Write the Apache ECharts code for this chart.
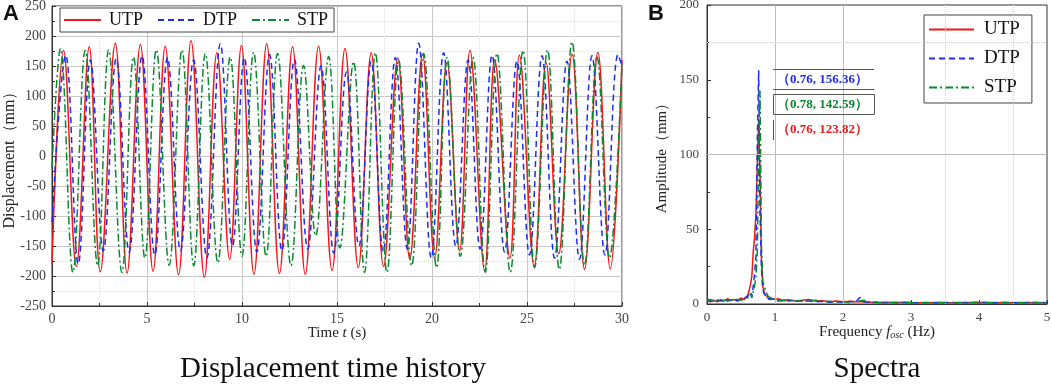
<!DOCTYPE html>
<html>
<head>
<meta charset="utf-8">
<title>Displacement time history and spectra</title>
<script src="https://cdn.jsdelivr.net/npm/echarts@6/dist/echarts.min.js"></script>
<style>
html, body { margin: 0; padding: 0; background: #fff; }
#main { width: 1052px; height: 388px; }
</style>
</head>
<body>
<div id="main"></div>
<script>
// time history: peaks and troughs
var utpTime = [0, 0.61, 1.28, 1.96, 2.54, 3.33, 3.95, 4.65, 5.32, 5.96, 6.66, 7.32, 8.02, 8.68, 9.35, 9.97, 10.63, 11.30, 11.97, 12.66, 13.33, 14.03, 14.74, 15.42, 16.12, 16.80, 17.45, 18.20, 18.83, 19.50, 20.14, 20.79, 21.45, 22.00, 22.77, 23.30, 24.10, 24.60, 25.38, 26.00, 26.67, 27.37, 28.03, 28.73, 29.38, 30.0];
var utpDisp = [-180, 176, -184, 182, -193, 188, -195, 186, -192, 183, -198, 192, -202, 172, -172, 184, -197, 187, -196, 182, -197, 183, -191, 179, -186, 172, -184, 163, -172, 170, -170, 156, -158, 176, -191, 161, -170, 168, -184, 156, -163, 170, -189, 173, -188, 160];

var dtpTime = [0, 0.72, 1.38, 2.02, 2.70, 3.38, 4.06, 4.74, 5.41, 6.08, 6.76, 7.45, 8.15, 8.86, 9.50, 10.12, 10.78, 11.45, 12.10, 12.76, 13.46, 14.16, 14.83, 15.50, 16.15, 16.80, 17.43, 18.07, 18.70, 19.30, 19.96, 20.61, 21.25, 21.90, 22.53, 23.16, 23.82, 24.47, 25.13, 25.79, 26.45, 27.10, 27.76, 28.42, 29.10, 29.79, 30.0];
var dtpDisp = [-110, 168, -180, 160, -158, 162, -160, 167, -165, 164, -158, 160, -170, 187, -150, 164, -160, 169, -158, 161, -155, 150, -162, 140, -150, 158, -160, 164, -155, 188, -170, 172, -150, 160, -155, 168, -160, 158, -165, 167, -170, 158, -172, 167, -165, 169, 150];

var stpTime = [0, 0.44, 1.10, 1.75, 2.40, 2.98, 3.68, 4.29, 4.89, 5.49, 6.17, 6.84, 7.46, 8.07, 8.73, 9.38, 10.00, 10.61, 11.27, 11.87, 12.58, 13.24, 13.88, 14.56, 15.15, 15.87, 16.45, 17.02, 17.63, 18.24, 18.93, 19.56, 20.24, 20.79, 21.49, 22.16, 22.80, 23.42, 24.12, 24.79, 25.40, 26.08, 26.70, 27.37, 28.03, 28.68, 29.34, 30.0];
var stpDisp = [-20, 179, -194, 176, -183, 177, -194, 165, -170, 177, -182, 177, -183, 171, -178, 165, -167, 173, -167, 171, -183, 151, -133, 166, -153, 157, -194, 172, -194, 160, -183, 171, -186, 164, -167, 164, -194, 171, -194, 176, -186, 177, -189, 190, -182, 166, -170, 155];

// spectra
var freq = [0, 0.05, 0.1, 0.15, 0.2, 0.25, 0.3, 0.35, 0.4, 0.45, 0.5, 0.55, 0.6,
  0.62, 0.64, 0.66, 0.68, 0.7, 0.72, 0.74, 0.76, 0.78, 0.8, 0.82, 0.84, 0.86, 0.88, 0.9,
  0.93, 0.96, 1.0, 1.05, 1.1,
  1.2, 1.3, 1.4, 1.5, 1.6, 1.7, 1.8, 1.9, 2.0, 2.1, 2.2, 2.25,
  2.3, 2.4, 2.5, 2.6, 2.7, 2.8, 2.9, 3.0,
  3.2, 3.4, 3.6, 3.8, 4.0, 4.2, 4.4, 4.6, 4.8, 5.0];
var utpAmp = [2, 1.5, 2.5, 1.5, 3, 2, 3.5, 2.5, 3, 2.5, 4, 3, 6,
  9, 13, 19, 35, 45, 60, 95, 123.82, 85, 30, 12, 8, 6, 5, 4,
  4.5, 3.5, 3, 3.5, 2.5,
  2.8, 2, 2.5, 3, 2, 2.2, 1.5, 2, 1.5, 1.8, 1.5, 1.6,
  1.5, 1.2, 1, 1.2, 1, 1, 1.2, 1,
  0.8, 1, 0.8, 1, 0.8, 1, 0.8, 1, 0.8, 1];
var dtpAmp = [3, 2, 1.5, 2.5, 2, 3, 2, 2.5, 3, 2, 3.5, 4, 5,
  6, 8, 5, 12, 20, 32, 110, 156.36, 60, 25, 10, 7, 5, 4, 3.5,
  3, 3.5, 2.5, 2, 2.5,
  2, 2.5, 1.8, 2, 1.5, 1.8, 1.2, 1.5, 1.2, 1.5, 2, 4.5,
  1.5, 1, 1.2, 0.8, 1, 0.8, 1, 0.8,
  1, 0.8, 1, 0.8, 1.2, 0.8, 1, 0.8, 1, 0.8];
var stpAmp = [2.5, 3, 2, 3, 1.5, 2.5, 3, 2, 3.5, 3, 2.5, 3.5, 4,
  5, 7, 4, 8, 12, 18, 35, 100, 142.59, 40, 15, 12, 13, 7, 5,
  4, 3, 3.5, 2.5, 2,
  2.5, 2, 2.2, 1.8, 2.5, 1.5, 1.8, 1.2, 1.5, 1.2, 1.5, 2,
  2.5, 1.5, 1, 0.8, 1, 1, 0.8, 1,
  0.8, 1, 0.8, 1, 1, 0.8, 1, 0.8, 1, 0.8];

var seriesNames = ['UTP', 'DTP', 'STP'];
var peakLabels = ['（0.76, 156.36）', '（0.78, 142.59）', '（0.76, 123.82）'];

function pairs(xs, ys) {
  return xs.map(function (x, i) { return [x, ys[i]]; });
}

var SERIF = 'Liberation Serif';
var red = '#f01818', blue = '#1c2cf5', green = '#0a8a30';
var lineStyles = {
  UTP: { color: red, width: 1.5, type: 'solid' },
  DTP: { color: blue, width: 1.5, type: [6, 4] },
  STP: { color: green, width: 1.5, type: [8, 3, 2, 3] }
};

function axisCommon(extra) {
  var base = {
    type: 'value',
    axisLine: { show: true, onZero: false, lineStyle: { color: '#333', width: 1 } },
    axisTick: { show: true, inside: true, length: 4, lineStyle: { color: '#333' } },
    minorTick: { show: false },
    axisLabel: { fontFamily: SERIF, fontSize: 13, color: '#444' },
    splitLine: { show: false },
    nameLocation: 'middle',
    nameMoveOverlap: false,
    nameTextStyle: { fontFamily: SERIF, fontSize: 15, color: '#222' }
  };
  for (var k in extra) base[k] = extra[k];
  return base;
}

var chart = echarts.init(document.getElementById('main'));

var option = {
  animation: false,
  backgroundColor: '#fff',
  grid: [
    { left: 52, top: 6, width: 570, height: 300, show: true, borderColor: '#333', borderWidth: 1, outerBoundsMode: 'none' },
    { left: 707, top: 5, width: 340, height: 299, show: true, borderColor: '#333', borderWidth: 1, outerBoundsMode: 'none' }
  ],
  xAxis: [
    axisCommon({
      gridIndex: 0, min: 0, max: 30, interval: 5,
      minorTick: { show: true, splitNumber: 2, length: 3, lineStyle: { color: '#333' } },
      axisLabel: { fontFamily: SERIF, fontSize: 14, color: '#444', margin: 6 },
      splitLine: { show: true, lineStyle: { color: '#c8c8c8', width: 1 } },
      minorSplitLine: { show: true, lineStyle: { color: '#e0e0e0', type: 'dotted' } },
      name: 'Time {i|t} (s)', nameGap: 20,
      nameTextStyle: { fontFamily: SERIF, fontSize: 15, color: '#222',
        rich: { i: { fontFamily: SERIF, fontSize: 15, fontStyle: 'italic', color: '#222' } } }
    }),
    axisCommon({
      gridIndex: 1, min: 0, max: 5, interval: 1,
      axisLabel: { fontFamily: SERIF, fontSize: 13, color: '#444', margin: 7 },
      name: 'Frequency {i|f}{s|osc} (Hz)', nameGap: 20,
      nameTextStyle: { fontFamily: SERIF, fontSize: 15, color: '#222',
        rich: {
          i: { fontFamily: SERIF, fontSize: 15, fontStyle: 'italic', color: '#222' },
          s: { fontFamily: SERIF, fontSize: 10, fontStyle: 'italic', color: '#222', verticalAlign: 'bottom', padding: [6, 0, 0, 0] }
        } }
    })
  ],
  yAxis: [
    axisCommon({
      gridIndex: 0, min: -250, max: 250, interval: 50,
      minorTick: { show: true, splitNumber: 2, length: 3, lineStyle: { color: '#333' } },
      axisLabel: { fontFamily: SERIF, fontSize: 14, color: '#444', margin: 6 },
      splitLine: { show: true, lineStyle: { color: '#c8c8c8', width: 1 } },
      minorSplitLine: { show: true, lineStyle: { color: '#e0e0e0', type: 'dotted' } },
      name: 'Displacement（mm）', nameGap: 34,
      nameTextStyle: { fontFamily: SERIF, fontSize: 16, color: '#222' }
    }),
    axisCommon({
      gridIndex: 1, min: 0, max: 200, interval: 50,
      minorTick: { show: true, splitNumber: 2, length: 3, lineStyle: { color: '#333' } },
      axisLabel: { fontFamily: SERIF, fontSize: 13, color: '#444', margin: 8 },
      name: 'Amplitude（mm）', nameGap: 37
    })
  ],
  legend: [
    {
      data: seriesNames, left: 60, top: 8, orient: 'horizontal',
      itemWidth: 37, itemHeight: 14, itemGap: 14,
      padding: [3, 6, 3, 3],
      borderColor: '#444', borderWidth: 1, backgroundColor: '#fff',
      itemStyle: { opacity: 0 },
      textStyle: { fontFamily: SERIF, fontSize: 18, color: '#111', padding: [0, 0, 0, 3] }
    },
    {
      data: seriesNames, left: 924, top: 15, orient: 'vertical',
      itemWidth: 45, itemHeight: 14, itemGap: 10,
      padding: [5, 12, 6, 4],
      borderColor: '#444', borderWidth: 1, backgroundColor: '#fff',
      itemStyle: { opacity: 0 },
      textStyle: { fontFamily: SERIF, fontSize: 19, color: '#111', padding: [0, 0, 0, 5] }
    }
  ],
  series: [
    // odd grid lines of panel B
    {
      name: 'grid', type: 'line', xAxisIndex: 1, yAxisIndex: 1, data: [], z: 1,
      markLine: {
        silent: true, symbol: ['none', 'none'], label: { show: false },
        lineStyle: { color: '#bdbdbd', type: 'solid', width: 1 },
        data: [
          { xAxis: 1 }, { xAxis: 2 }, { yAxis: 100 },
          { xAxis: 3.5, lineStyle: { color: '#d0d0d0', type: 'dotted' } },
          { xAxis: 4.5, lineStyle: { color: '#d0d0d0', type: 'dotted' } },
          { yAxis: 175, lineStyle: { color: '#d0d0d0', type: 'dotted' } }
        ]
      }
    }
  ],
  graphic: []
};

var timeData = { UTP: pairs(utpTime, utpDisp), DTP: pairs(dtpTime, dtpDisp), STP: pairs(stpTime, stpDisp) };
var specData = { UTP: pairs(freq, utpAmp), DTP: pairs(freq, dtpAmp), STP: pairs(freq, stpAmp) };

seriesNames.forEach(function (n) {
  option.series.push({
    name: n, type: 'line', xAxisIndex: 0, yAxisIndex: 0,
    data: timeData[n], smooth: 0.4, symbol: 'none',
    lineStyle: lineStyles[n], itemStyle: { color: lineStyles[n].color }, z: 3
  });
});
seriesNames.forEach(function (n) {
  option.series.push({
    name: n, type: 'line', xAxisIndex: 1, yAxisIndex: 1,
    data: specData[n], symbol: 'none',
    lineStyle: lineStyles[n], itemStyle: { color: lineStyles[n].color }, z: 3
  });
});

// peak annotations of panel B
var labelColors = [blue, green, red];
var labelY = [79.5, 104.5, 130];
peakLabels.forEach(function (t, i) {
  option.graphic.push({
    type: 'text', x: 777, y: labelY[i], z: 10,
    style: { text: t, fill: labelColors[i], font: 'bold 13px "Liberation Serif"', textVerticalAlign: 'middle' }
  });
});
var boxLine = { stroke: '#555', lineWidth: 1 };
option.graphic.push(
  { type: 'line', shape: { x1: 773, y1: 69.5, x2: 874, y2: 69.5 }, style: boxLine, z: 10 },
  { type: 'line', shape: { x1: 773, y1: 89.5, x2: 874, y2: 89.5 }, style: boxLine, z: 10 },
  { type: 'rect', shape: { x: 773.5, y: 94.5, width: 101, height: 20 }, style: { fill: 'none', stroke: '#555', lineWidth: 1 }, z: 10 },
  { type: 'line', shape: { x1: 773.5, y1: 120, x2: 773.5, y2: 140 }, style: boxLine, z: 10 }
);

// panel letters and captions
option.graphic.push(
  { type: 'text', x: 3, y: 3, style: { text: 'A', font: 'bold 22px "Liberation Sans"', fill: '#111' } },
  { type: 'text', x: 648, y: 3, style: { text: 'B', font: 'bold 22px "Liberation Sans"', fill: '#111' } },
  { type: 'text', x: 333, y: 369, style: { text: 'Displacement time history', font: '29px "Liberation Serif"', fill: '#111', textAlign: 'center', textVerticalAlign: 'middle' } },
  { type: 'text', x: 877, y: 369, style: { text: 'Spectra', font: '29px "Liberation Serif"', fill: '#111', textAlign: 'center', textVerticalAlign: 'middle' } }
);

chart.setOption(option);
</script>
</body>
</html>
